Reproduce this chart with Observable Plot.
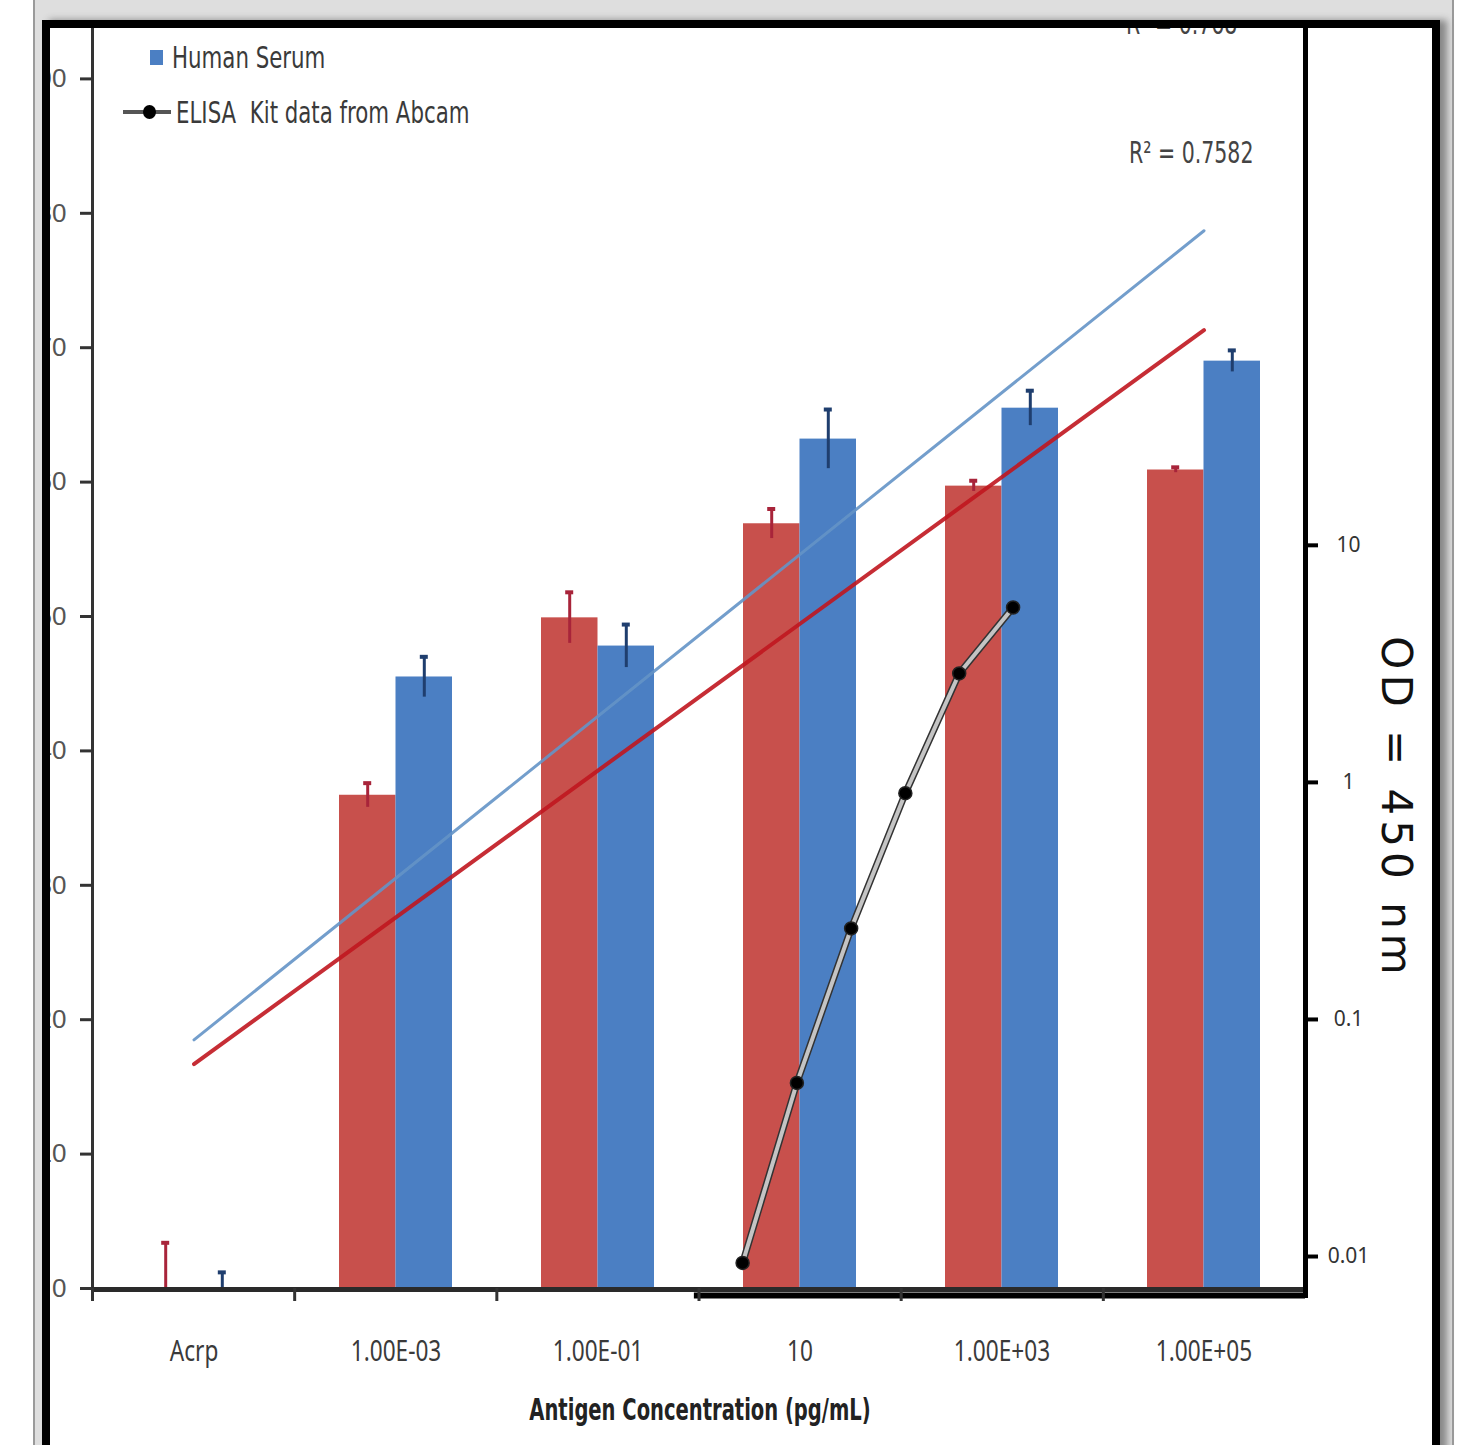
<!DOCTYPE html>
<html><head><meta charset="utf-8">
<script src="https://cdn.jsdelivr.net/npm/d3@7"></script>
<script src="https://cdn.jsdelivr.net/npm/@observablehq/plot@0.6"></script>
<style>
html,body{margin:0;padding:0;}
body{width:1457px;height:1445px;position:relative;overflow:hidden;background:#fff;font-family:"Liberation Sans Narrow","DejaVu Sans Condensed","Liberation Sans",sans-serif;}
#bg{position:absolute;left:33px;top:0;width:1417px;height:1445px;background:#dedede;border-left:2px solid #9a9a9a;border-right:2px solid #9a9a9a;}
#frame{position:absolute;left:42px;top:20px;width:1382px;height:1445px;border:8px solid #000;background:#fff;box-shadow:7px 0 7px #888;}
#clip{position:absolute;left:50px;top:28px;width:1382px;height:1417px;overflow:hidden;}
#stage{position:absolute;left:-50px;top:-28px;width:1457px;height:1445px;}
#stage svg{position:absolute;left:0;top:0;}
.t{position:absolute;white-space:pre;color:#3a3a3a;}
</style></head>
<body>
<div id="bg"></div>
<div id="frame"></div>
<div id="clip"><div id="stage"></div></div>
<script>
// ---- data ----
const categories = ["Acrp", "1.00E-03", "1.00E-01", "10", "1.00E+03", "1.00E+05"];
const redValues  = [0, 36.7, 49.9, 56.9, 59.7, 60.9];
const redErrors  = [3.4, 0.9, 1.9, 1.1, 0.4, 0.2];
const blueValues = [0, 45.5, 47.8, 63.2, 65.5, 69.0];
const blueErrors = [1.2, 1.5, 1.6, 2.2, 1.3, 0.8];
// linear trend lines (end points at first and last category)
const trendCategories = ["Acrp", "1.00E+05"];
const blueTrend = [18.5, 78.7];
const redTrend  = [16.7, 71.3];
// ELISA kit data (secondary axes, log OD)
const elisaConc = [2.7, 9.3, 32, 110, 375, 1280];
const elisaOD   = [0.0094, 0.054, 0.242, 0.90, 2.88, 5.47];
const leftTicks  = [0, 10, 20, 30, 40, 50, 60, 70, 80, 90];
const rightTicks = [0.01, 0.1, 1, 10];
const boundaryTicks = [1e-6, 1e-4, 1e-2, 1, 1e2, 1e4];

const RED = "#c8504c", BLUE = "#4b7fc3";
const rows = categories.map((c, i) => ({cat: c, red: redValues[i], redE: redErrors[i], blue: blueValues[i], blueE: blueErrors[i]}));
const trendRowsBlue = trendCategories.map((c, i) => ({cat: c, v: blueTrend[i]}));
const trendRowsRed  = trendCategories.map((c, i) => ({cat: c, v: redTrend[i]}));
const elisa = elisaConc.map((c, i) => ({c, od: elisaOD[i]}));

const common = {width: 1457, height: 1445, marginTop: 28, marginBottom: 157, marginLeft: 92, marginRight: 152,
  style: {background: "transparent", overflow: "visible"}};
const HALF = 56.5, Q = 28.3;

const p1 = Plot.plot({
  ...common,
  x: {domain: categories, paddingInner: 0.44, paddingOuter: 0.22, align: 0.5, label: null},
  y: {domain: [0, 93.75], label: null},
  marks: [
    Plot.barY(rows, {x: "cat", y: "red", fill: RED, insetRight: HALF}),
    Plot.barY(rows, {x: "cat", y: "blue", fill: BLUE, insetLeft: HALF}),
    Plot.ruleX(rows, {x: "cat", y1: d => Math.max(0, d.red - d.redE), y2: d => d.red + d.redE, dx: -Q, stroke: "#a8243a", strokeWidth: 3}),
    Plot.tickY(rows, {x: "cat", y: d => d.red + d.redE, insetLeft: HALF - Q - 4, insetRight: HALF + Q - 4, stroke: "#a8243a", strokeWidth: 4}),
    Plot.ruleX(rows, {x: "cat", y1: d => Math.max(0, d.blue - d.blueE), y2: d => d.blue + d.blueE, dx: Q, stroke: "#1f3e6e", strokeWidth: 3}),
    Plot.tickY(rows, {x: "cat", y: d => d.blue + d.blueE, insetLeft: HALF + Q - 4, insetRight: HALF - Q - 4, stroke: "#1f3e6e", strokeWidth: 4}),
    Plot.line(trendRowsBlue, {x: "cat", y: "v", stroke: "#6494c6", strokeWidth: 3, strokeOpacity: 0.9}),
    Plot.line(trendRowsRed, {x: "cat", y: "v", stroke: "#c0161f", strokeWidth: 4, strokeOpacity: 0.9}),
    Plot.axisY({ticks: leftTicks, tickSize: 12, tickPadding: 14, fontSize: 26, fontFamily: "Liberation Sans, Arial, sans-serif",
      stroke: "#333", strokeWidth: 3, fill: "#555", label: null}),
    Plot.axisX({tickSize: 0, tickPadding: 52, fontSize: 29, fill: "#3a3a3a", label: null})
  ]
});

const p2 = Plot.plot({
  ...common,
  x: {type: "log", domain: [1e-6, 1e6], label: null},
  y: {type: "log", domain: [0.00733, 1514], label: null},
  marks: [
    Plot.ruleX([1e-6], {stroke: "#333", strokeWidth: 3}),
    Plot.ruleY([0.00733], {x1: 1e-6, x2: 1e6, stroke: "#2a2a2a", strokeWidth: 5, dy: 1}),
    Plot.ruleY([0.00733], {x1: 0.9, x2: 1e6, stroke: "#000", strokeWidth: 6, dy: 7}),
    Plot.ruleX([1e6], {stroke: "#000", strokeWidth: 5, insetBottom: -10, insetTop: -12}),
    Plot.axisX({ticks: boundaryTicks, tickFormat: () => "", tickSize: 13, stroke: "#333", strokeWidth: 3, label: null}),
    Plot.axisY({anchor: "right", ticks: rightTicks, tickFormat: d => String(d), tickSize: 12, tickPadding: 31,
      textAnchor: "middle", fontSize: 21, fill: "#333", stroke: "#000", strokeWidth: 4, label: null}),
    Plot.line(elisa, {x: "c", y: "od", stroke: "#333", strokeWidth: 7}),
    Plot.line(elisa, {x: "c", y: "od", stroke: "#c4c4c4", strokeWidth: 4}),
    Plot.dot(elisa, {x: "c", y: "od", r: 6.5, fill: "#000", stroke: "#222", strokeWidth: 1.5})
  ]
});

const stage = document.getElementById("stage");
stage.appendChild(p1);
stage.appendChild(p2);

// narrow the category labels (the reference uses a tall condensed face)
p1.querySelectorAll('g[aria-label="x-axis tick label"] text').forEach(t => {
  const len = t.getComputedTextLength();
  t.setAttribute("textLength", (len * 0.78).toFixed(1));
  t.setAttribute("lengthAdjust", "spacingAndGlyphs");
});

function addText(txt, left, cy, size, sx, opts = {}) {
  const d = document.createElement("div");
  d.className = "t";
  d.textContent = txt;
  d.style.left = left + "px";
  d.style.top = (cy - size * 0.6) + "px";
  d.style.fontSize = size + "px";
  d.style.lineHeight = (size * 1.2) + "px";
  d.style.transformOrigin = "0 50%";
  d.style.transform = `scaleX(${sx})`;
  Object.assign(d.style, opts);
  stage.appendChild(d);
  return d;
}
// legend
const sq = document.createElement("div");
Object.assign(sq.style, {position: "absolute", left: "150px", top: "50px", width: "13px", height: "15px", background: BLUE});
stage.appendChild(sq);
addText("Human Serum", 172, 58, 30, 0.79);
const ln = document.createElement("div");
Object.assign(ln.style, {position: "absolute", left: "123px", top: "110px", width: "48px", height: "4px", background: "#555"});
stage.appendChild(ln);
const dt = document.createElement("div");
Object.assign(dt.style, {position: "absolute", left: "143px", top: "105px", width: "13px", height: "14px", borderRadius: "50%", background: "#000"});
stage.appendChild(dt);
addText("ELISA  Kit data from Abcam", 176, 113, 30, 0.79);
// R squared labels
addText("R\u00b2 = 0.768", 1126, 24, 30, 0.76, {color: "#444"});
addText("R\u00b2 = 0.7582", 1129, 153, 30, 0.76, {color: "#444"});
// axis titles
const xt = addText("Antigen Concentration (pg/mL)", 700, 1410, 31, 0.7, {fontWeight: "bold", color: "#222"});
xt.style.transformOrigin = "50% 50%";
xt.style.transform = "translateX(-50%) scaleX(0.7)";
const yt = addText("OD = 450 nm", 1396, 808, 42, 1, {fontFamily: "DejaVu Sans, sans-serif", color: "#111", letterSpacing: "5px"});
yt.style.left = "1396px";
yt.style.top = "808px";
yt.style.lineHeight = "1";
yt.style.transformOrigin = "50% 50%";
yt.style.transform = "translate(-50%,-50%) rotate(90deg)";
</script>
</body></html>
